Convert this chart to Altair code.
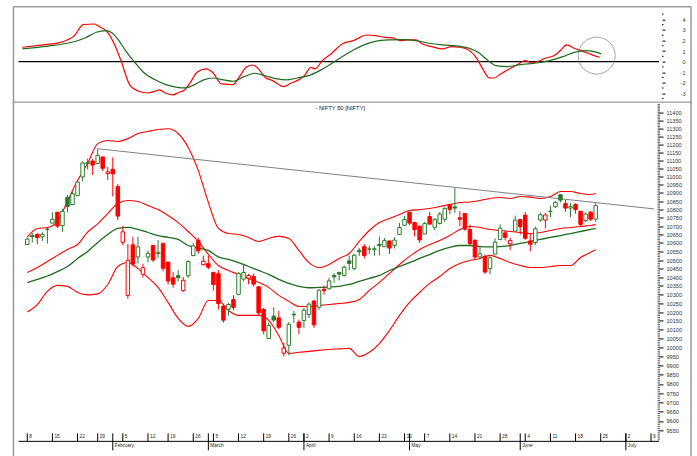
import altair as alt
import pandas as pd

# ---------------- data (trading-day index 0 = 8 Jan 2018) ----------------
opens = [10591, 10645, 10652, 10637, 10682, 10718, 10783, 10703, 10873, 10829,
         10883, 10997, 11079, 11095, 11080, 11120, 11018, 11044, 10938, 10604,
         10295, 10589, 10518, 10417, 10518, 10585, 10537, 10596, 10488, 10397,
         10409, 10322, 10408, 10526, 10615, 10473, 10479, 10428, 10420, 10233,
         10216, 10271, 10301, 10389, 10393, 10405, 10345, 10215, 10051, 10177,
         10167, 9969, 10013, 10188, 10143, 10152, 10186, 10263, 10228, 10330,
         10333, 10410, 10428, 10410, 10495, 10450, 10557, 10578, 10563, 10560,
         10592, 10578, 10612, 10586, 10651, 10705, 10783, 10721, 10700, 10653,
         10757, 10693, 10716, 10741, 10830, 10815, 10750, 10775, 10680, 10616,
         10518, 10521, 10450, 10534, 10620, 10660, 10594, 10670, 10739, 10765,
         10612, 10603, 10737, 10736, 10789, 10816, 10888, 10835, 10808, 10830,
         10789, 10734, 10783, 10742]
highs = [10631, 10660, 10655, 10664, 10690, 10783, 10783, 10803, 10887, 10906,
         10975, 11092, 11110, 11107, 11171, 11121, 11058, 11117, 10954, 10702,
         10594, 10636, 10637, 10478, 10556, 10590, 10618, 10604, 10489, 10429,
         10441, 10401, 10499, 10599, 10631, 10526, 10525, 10428, 10441, 10243,
         10254, 10296, 10430, 10478, 10420, 10421, 10346, 10224, 10141, 10228,
         10207, 10027, 10143, 10207, 10158, 10224, 10255, 10270, 10332, 10352,
         10397, 10424, 10430, 10469, 10526, 10535, 10570, 10594, 10584, 10582,
         10638, 10629, 10612, 10633, 10719, 10760, 10785, 10724, 10700, 10725,
         10785, 10746, 10785, 10812, 10834, 10929, 10790, 10777, 10709, 10621,
         10575, 10533, 10528, 10628, 10710, 10675, 10631, 10763, 10740, 10784,
         10658, 10698, 10782, 10779, 10823, 10850, 10893, 10857, 10837, 10837,
         10789, 10781, 10790, 10837]
lows = [10588, 10603, 10592, 10612, 10597, 10715, 10689, 10666, 10782, 10826,
        10881, 10969, 11043, 11009, 11080, 11033, 10979, 10878, 10736, 10586,
        10276, 10461, 10479, 10398, 10485, 10489, 10512, 10434, 10358, 10340,
        10376, 10315, 10396, 10522, 10537, 10469, 10447, 10323, 10215, 10141,
        10180, 10211, 10296, 10377, 10359, 10346, 10180, 10075, 10050, 10142,
        10103, 9952, 9958, 10139, 10075, 10111, 10166, 10111, 10213, 10300,
        10328, 10368, 10381, 10404, 10440, 10440, 10524, 10509, 10534, 10525,
        10527, 10577, 10536, 10568, 10647, 10704, 10705, 10639, 10601, 10653,
        10710, 10676, 10710, 10724, 10774, 10781, 10699, 10672, 10586, 10505,
        10510, 10418, 10417, 10533, 10618, 10615, 10558, 10669, 10650, 10618,
        10551, 10587, 10725, 10688, 10752, 10808, 10842, 10786, 10753, 10775,
        10701, 10724, 10731, 10725]
closes = [10623, 10637, 10632, 10651, 10681, 10741, 10700, 10788, 10817, 10894,
          10966, 11083, 11086, 11070, 11130, 11050, 11028, 11016, 10760, 10666,
          10498, 10476, 10577, 10455, 10539, 10500, 10545, 10452, 10378, 10360,
          10397, 10382, 10491, 10583, 10554, 10493, 10458, 10358, 10249, 10154,
          10243, 10227, 10421, 10427, 10410, 10360, 10195, 10094, 10124, 10155,
          10114, 9998, 10131, 10184, 10114, 10211, 10245, 10128, 10325, 10322,
          10379, 10402, 10418, 10458, 10480, 10528, 10548, 10526, 10565, 10566,
          10585, 10614, 10570, 10617, 10692, 10739, 10718, 10679, 10618, 10715,
          10712, 10741, 10772, 10806, 10800, 10808, 10741, 10682, 10596, 10517,
          10536, 10430, 10513, 10605, 10688, 10633, 10614, 10736, 10696, 10628,
          10593, 10684, 10768, 10767, 10787, 10843, 10856, 10808, 10817, 10799,
          10710, 10772, 10741, 10822]

# Bollinger bands / averages, read every 2nd trading day
band_idx = list(range(0, 113, 2)) + [113]
upper_band = [10635, 10686, 10692, 10727, 10850, 10975, 11079, 11203, 11222, 11216,
              11234, 11266, 11279, 11291, 11296, 11266, 11179, 11036, 10842, 10686,
              10656, 10650, 10633, 10609, 10627, 10639, 10627, 10556, 10485, 10456,
              10474, 10509, 10538, 10609, 10674, 10721, 10745, 10769, 10793, 10799,
              10805, 10817, 10829, 10842, 10845, 10854, 10866, 10872, 10866, 10878,
              10874, 10866, 10878, 10908, 10908, 10896, 10890, 10896]
middle_band = [10427, 10456, 10491, 10527, 10562, 10591, 10664, 10713, 10775, 10836,
               10854, 10848, 10823, 10799, 10763, 10721, 10668, 10609, 10533, 10468,
               10439, 10416, 10393, 10370, 10341, 10295, 10261, 10232, 10232, 10238,
               10243, 10249, 10255, 10272, 10324, 10370, 10422, 10474, 10521, 10562,
               10591, 10615, 10644, 10680, 10698, 10692, 10680, 10674, 10668, 10662,
               10656, 10662, 10674, 10686, 10692, 10698, 10704, 10709]
green_avg = [10368, 10387, 10407, 10433, 10462, 10509, 10550, 10603, 10650, 10686,
             10692, 10680, 10662, 10644, 10633, 10621, 10585, 10571, 10556, 10518,
             10503, 10485, 10462, 10439, 10416, 10387, 10364, 10347, 10339, 10341,
             10343, 10347, 10358, 10376, 10393, 10410, 10439, 10462, 10485, 10509,
             10532, 10556, 10574, 10585, 10585, 10579, 10577, 10579, 10585, 10597,
             10609, 10621, 10633, 10644, 10656, 10668, 10680, 10686]
lower_band = [10200, 10243, 10318, 10353, 10347, 10312, 10298, 10304, 10358, 10462,
              10485, 10450, 10398, 10341, 10255, 10164, 10119, 10164, 10266, 10266,
              10209, 10181, 10181, 10181, 10153, 10068, 9968, 9974, 9979, 9985,
              9990, 9993, 9996, 9951, 9974, 10023, 10096, 10181, 10255, 10312,
              10364, 10404, 10450, 10479, 10497, 10509, 10527, 10509, 10485, 10468,
              10456, 10456, 10462, 10468, 10468, 10515, 10545, 10560]

trend_idx = [14, 124.6]
trend_val = [11171, 10803]

# oscillator panel
osc_red_idx = [0, 4.5, 7.1, 8.8, 10.2, 11.9, 14.1, 15.1, 16.7, 18.0, 19.3, 21.1, 22.8,
               24.6, 25.9, 26.8, 28.1, 29.4, 30.7, 31.6, 32.9, 34.2, 35.9, 37.2, 39.0,
               41.2, 42.5, 43.8, 45.1, 46.2, 47.5, 49.0, 51.2, 52.5, 53.8, 55.2, 56.5,
               57.3, 58.7, 60.4, 62.6, 64.8, 67.4, 69.1, 70.9, 72.6, 73.9, 75.3, 77.0,
               78.3, 80.1, 82.2, 84.0, 85.7, 87.5, 88.8, 90.1, 91.4, 92.3, 93.6, 95.3,
               97.1, 98.4, 99.7, 101.0, 102.3, 104.1, 105.4, 106.5, 108.0, 109.3, 110.6,
               111.9, 113.0]
osc_red = [1.36, 1.61, 1.77, 2.05, 2.46, 3.50, 3.56, 3.31, 2.78, 1.67, 0.10, -2.27, -2.81,
           -2.97, -2.81, -2.68, -3.00, -3.15, -2.90, -2.74, -1.96, -1.01, -0.69, -1.01, -2.11,
           -2.18, -1.42, -0.54, -0.32, -0.69, -1.48, -1.80, -2.37, -2.05, -1.80, -1.33, -0.54,
           -0.69, 0.10, 0.73, 1.67, 1.99, 2.52, 2.46, 2.30, 2.24, 1.99, 2.05, 2.05,
           1.67, 1.42, 1.20, 1.42, 1.36, 1.04, 0.41, -0.69, -1.55, -1.55, -1.17, -0.69,
           -0.22, 0.10, -0.13, 0.03, 0.32, 0.57, 1.10, 1.58, 1.26, 1.04, 0.82,
           0.57, 0.41]
osc_green_idx = [0, 4.5, 8.8, 12.3, 14.5, 16.3, 17.6, 18.9, 20.2, 22.0, 23.7, 25.9, 28.1,
                 30.3, 32.0, 33.7, 35.5, 37.2, 39.4, 41.2, 43.4, 45.5, 47.7, 49.9, 51.7,
                 53.8, 56.0, 58.2, 60.4, 62.6, 64.8, 67.0, 69.1, 71.8, 74.4, 77.0, 79.6,
                 82.2, 85.7, 87.5, 89.2, 91.0, 92.7, 94.9, 97.5, 100.6, 103.2, 105.8,
                 108.0, 110.2, 111.9, 113.3]
osc_green = [1.20, 1.45, 1.74, 2.24, 2.78, 2.93, 2.71, 1.99, 1.04, -0.06, -1.01, -1.70, -2.18,
             -2.43, -2.49, -2.18, -1.73, -1.55, -1.73, -1.86, -1.42, -1.10, -1.36, -1.64, -1.73,
             -1.55, -1.33, -0.85, -0.22, 0.47, 1.10, 1.61, 1.92, 2.05, 2.08, 1.99, 1.74,
             1.58, 1.45, 1.26, 0.88, 0.16, -0.38, -0.47, -0.28, -0.13, 0.10, 0.47,
             0.88, 1.04, 0.95, 0.73]
circle_idx = [112.4]
circle_val = [0.57]

# axis labels
week_pos = [0, 5, 10, 14, 19, 24, 28, 33, 37, 42, 47, 52, 55, 60, 65, 70, 75, 79, 84, 89,
            94, 99, 104, 109, 114, 119, 124]
week_lab = ["8", "15", "22", "29", "5", "12", "19", "26", "5", "12", "19", "26", "2", "9",
            "16", "23", "30", "7", "14", "21", "28", "4", "11", "18", "25", "2", "9"]
month_pos = [17, 36, 55, 76, 98, 119]
month_lab = ["February", "March", "April", "May", "June", "July"]
price_ticks = list(range(9550, 11401, 50))
price_minor = list(range(9500, 11451, 10))
osc_ticks = [-3, -2, -1, 0, 1, 2, 3, 4]
osc_minor = [-3.5, -2.5, -1.5, -0.5, 0.5, 1.5, 2.5, 3.5, 4.5]
title_text = "- NIFTY 50 [NIFTY]"

# ---------------- styling ----------------
GREEN = "#2c7a2c"
MAGREEN = "#1f6a1f"
RED = "#ff0000"
FRAME = "#9a9a9a"
FONT = "Liberation Sans"
W, HT, HM = 641, 91, 338

xsc = alt.Scale(domain=[-0.75, 124.6], nice=False, zero=False)
ysc = alt.Scale(type="log", domain=[9491.7, 11455.3], nice=False, zero=False)
osc_sc = alt.Scale(domain=[-3.69, 4.92], nice=False, zero=False)
X = lambda f: alt.X(f, type="quantitative", scale=xsc, axis=None)
one = pd.DataFrame({"a": [0]})

main_axis = alt.Axis(orient="right", values=price_ticks, format="d", tickSize=4,
                     tickColor="black", domain=False, grid=False, title=None,
                     labelFont=FONT, labelFontSize=5.6, labelColor="#333333",
                     labelPadding=3, labelOverlap=False, labelAlign="left",
                     labelBaseline="middle")
osc_axis = alt.Axis(orient="right", values=osc_ticks, labelExpr="'' + datum.value",
                    tickSize=3, offset=3, tickColor="black", domain=False, grid=False,
                    title=None, labelFont=FONT, labelFontSize=5.6, labelColor="#333333",
                    labelAlign="right", labelPadding=20, labelBaseline="middle",
                    labelOverlap=False)
YM = lambda f: alt.Y(f, type="quantitative", scale=ysc, axis=main_axis)
YO = lambda f: alt.Y(f, type="quantitative", scale=osc_sc, axis=osc_axis)

# ---------------- candles ----------------
n = len(closes)
cols, fills = [], []
for k in range(n):
    up = True if k == 0 else closes[k] >= closes[k - 1]
    col = GREEN if up else RED
    cols.append(col)
    fills.append("white" if closes[k] > opens[k] else col)
cd = pd.DataFrame({
    "i": list(range(n)), "o": opens, "h": highs, "l": lows, "c": closes,
    "b0": [min(a, b) for a, b in zip(opens, closes)],
    "b1": [max(a, b) for a, b in zip(opens, closes)],
    "col": cols, "fillc": fills,
})

wicks = alt.Chart(cd).mark_rule(strokeWidth=1).encode(
    x=X("i"), y=YM("l"), y2="h:Q", color=alt.Color("col:N", scale=None))
bodies = alt.Chart(cd).mark_bar(size=3.5, strokeWidth=1).encode(
    x=X("i"), y=YM("b0"), y2="b1:Q",
    fill=alt.Fill("fillc:N", scale=None), stroke=alt.Stroke("col:N", scale=None))

frames = []
for name, vals, colr, w in [("upper", upper_band, RED, 1.1), ("middle", middle_band, RED, 1.1),
                            ("lower", lower_band, RED, 1.1), ("avg", green_avg, MAGREEN, 1.3)]:
    frames.append(pd.DataFrame({"i": band_idx, "v": vals, "s": name, "col": colr, "w": w}))
bd = pd.concat(frames, ignore_index=True)
bands = alt.Chart(bd).mark_line(interpolate="monotone").encode(
    x=X("i"), y=YM("v"), detail="s:N",
    color=alt.Color("col:N", scale=None), strokeWidth=alt.StrokeWidth("w:Q", scale=None))

trend = alt.Chart(pd.DataFrame({"i": trend_idx, "v": trend_val})).mark_line(
    color="#808080", strokeWidth=1).encode(x=X("i"), y=YM("v"))

minor = alt.Chart(pd.DataFrame({"v": price_minor})).mark_rule(color="black", strokeWidth=0.6).encode(
    y=YM("v"), x=alt.value(W - 1.5), x2=alt.value(W + 1))

wk = pd.DataFrame({"i": week_pos, "lab": week_lab})
mo = pd.DataFrame({"i": month_pos, "lab": month_lab})
xbase = alt.Chart(one).mark_rule(color="black", strokeWidth=1).encode(
    x=alt.value(0), x2=alt.value(W), y=alt.value(HM))
wticks = alt.Chart(wk).mark_rule(color="black", strokeWidth=1).encode(
    x=X("i"), y=alt.value(HM - 8), y2=alt.value(HM))
wlabs = alt.Chart(wk).mark_text(align="left", baseline="middle", dx=2, font=FONT,
                                fontSize=4.8, color="#222222").encode(
    x=X("i"), y=alt.value(HM - 4.5), text="lab:N")
mticks = alt.Chart(mo).mark_rule(color="black", strokeWidth=1).encode(
    x=X("i"), y=alt.value(HM - 8), y2=alt.value(HM + 9))
mlabs = alt.Chart(mo).mark_text(align="left", baseline="middle", dx=2, font=FONT,
                                fontSize=4.8, color="#222222").encode(
    x=X("i"), y=alt.value(HM + 4.5), text="lab:N")
title = alt.Chart(one).mark_text(align="center", baseline="middle", font=FONT, fontSize=5.8,
                                 color="#111111", text=title_text).encode(
    x=alt.value(322), y=alt.value(4))
mframe_l = alt.Chart(one).mark_rule(color=FRAME, strokeWidth=1.5).encode(
    x=alt.value(-5), y=alt.value(-2), y2=alt.value(360))
mframe_r = alt.Chart(one).mark_rule(color=FRAME, strokeWidth=1.5).encode(
    x=alt.value(673), y=alt.value(-2), y2=alt.value(360))

main = alt.layer(mframe_l, mframe_r, minor, bands, trend, wicks, bodies,
                 xbase, wticks, wlabs, mticks, mlabs, title).properties(width=W, height=HM)

# ---------------- oscillator panel ----------------
od = pd.concat([
    pd.DataFrame({"i": osc_red_idx, "v": osc_red, "s": "red", "col": RED}),
    pd.DataFrame({"i": osc_green_idx, "v": osc_green, "s": "green", "col": MAGREEN}),
], ignore_index=True)
olines = alt.Chart(od).mark_line(interpolate="monotone", strokeWidth=1.2).encode(
    x=X("i"), y=YO("v"), detail="s:N", color=alt.Color("col:N", scale=None))
zero = alt.Chart(pd.DataFrame({"v": [0]})).mark_rule(color="black", strokeWidth=1.3).encode(
    y=YO("v"), x=alt.value(0), x2=alt.value(W))
ominor = alt.Chart(pd.DataFrame({"v": osc_minor})).mark_rule(color="black", strokeWidth=1).encode(
    y=YO("v"), x=alt.value(W + 3), x2=alt.value(W + 4.5))
circ = alt.Chart(pd.DataFrame({"i": circle_idx, "v": circle_val})).mark_point(
    shape="circle", filled=False, size=1370, color="#808080", strokeWidth=1).encode(
    x=X("i"), y=YO("v"))
tframe_t = alt.Chart(one).mark_rule(color=FRAME, strokeWidth=1.5).encode(
    x=alt.value(-5), x2=alt.value(673), y=alt.value(-3))
tframe_sep = alt.Chart(one).mark_rule(color=FRAME, strokeWidth=1.2).encode(
    x=alt.value(-5), x2=alt.value(673), y=alt.value(HT + 1.5))
tframe_l = alt.Chart(one).mark_rule(color=FRAME, strokeWidth=1.5).encode(
    x=alt.value(-5), y=alt.value(-3), y2=alt.value(HT + 3))
tframe_r = alt.Chart(one).mark_rule(color=FRAME, strokeWidth=1.5).encode(
    x=alt.value(673), y=alt.value(-3), y2=alt.value(HT + 3))

top = alt.layer(tframe_t, tframe_sep, tframe_l, tframe_r, zero, ominor, olines, circ
                ).properties(width=W, height=HT)

chart = alt.vconcat(top, main, spacing=3, bounds="flush").properties(
    padding={"left": 12.5, "top": 5.5, "right": 5, "bottom": 0},
    background="white",
).configure_view(stroke=None)

chart.save("out.html", embed_options={"renderer": "svg", "actions": False})
